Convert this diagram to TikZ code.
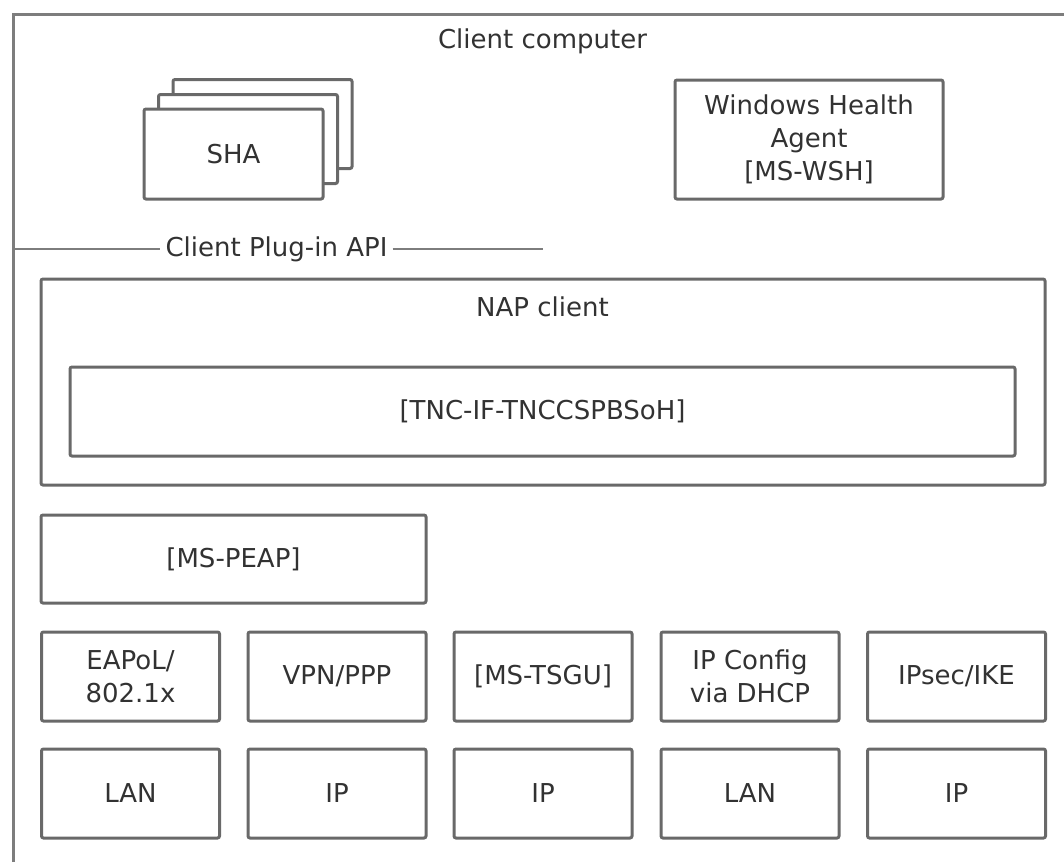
\documentclass[tikz,border=0pt]{standalone}
\usepackage{fontspec}
\setmainfont{DejaVu Sans}
\definecolor{boxline}{RGB}{105,105,105}
\definecolor{outerline}{RGB}{125,125,125}
\definecolor{txt}{RGB}{50,50,50}
\begin{document}
\begin{tikzpicture}[x=1pt,y=-1pt,
  every node/.style={font=\fontsize{26}{33}\selectfont, text=txt, align=center, inner sep=0pt},
  blk/.style={draw=boxline, line width=3pt, rounded corners=2pt, fill=white},
  lbl/.style={}
]
\useasboundingbox (0,0) rectangle (1064,862);
% outer container (clipped by the page)
\coordinate (obl) at (13,862);
\coordinate (otl) at (13,14);
\coordinate (otr) at (1064,14);
\draw[outerline, line width=3pt] (obl) -- (otl) -- (otr);
\node[lbl] (cc) at (542.5,41) {Client computer};

% SHA stack
\node[blk, minimum width=179pt, minimum height=89pt] (sha3) at (262.5,124) {};
\node[blk, minimum width=179pt, minimum height=89pt] (sha2) at (248,139) {};
\node[blk, minimum width=179pt, minimum height=90pt] (sha1) at (233.5,154) {SHA};

% Windows Health Agent
\node[blk, minimum width=268pt, minimum height=119pt] (wha) at (809,139.5) {Windows Health\\Agent\\{}[MS-WSH]};

% Client Plug-in API line
\node[lbl, inner xsep=5pt] (api) at (276.5,249) {Client Plug-in API};
\coordinate (apil) at (13,249);
\coordinate (apir) at (543,249);
\draw[outerline, line width=2.5pt] (apil) -- (api.west);
\draw[outerline, line width=2.5pt] (api.east) -- (apir);

% NAP client
\node[blk, minimum width=1004pt, minimum height=206pt] (nap) at (543,382) {};
\node[lbl] (napl) at (542.5,307) {NAP client};
\node[blk, minimum width=945pt, minimum height=89pt] (tnc) at (542.5,411.5) {[TNC-IF-TNCCSPBSoH]};

% MS-PEAP
\node[blk, minimum width=385pt, minimum height=88pt] (peap) at (233.5,559) {[MS-PEAP]};

% Row 1
\tikzset{cell/.style={blk, minimum width=178pt, minimum height=89pt}}
\node[cell] (eap) at (130.5,676.5) {EAPoL/\\802.1x};
\node[cell] (vpn) at (337,676.5) {VPN/PPP};
\node[cell] (tsgu) at (543,676.5) {[MS-TSGU]};
\node[cell] (dhcp) at (750,676.5) {IP Config\\via DHCP};
\node[cell] (ipsec) at (956.5,676.5) {IPsec/IKE};

% Row 2
\node[cell] (lan1) at (130.5,793.5) {LAN};
\node[cell] (ip1) at (337,793.5) {IP};
\node[cell] (ip2) at (543,793.5) {IP};
\node[cell] (lan2) at (750,793.5) {LAN};
\node[cell] (ip3) at (956.5,793.5) {IP};
\end{tikzpicture}
\end{document}
